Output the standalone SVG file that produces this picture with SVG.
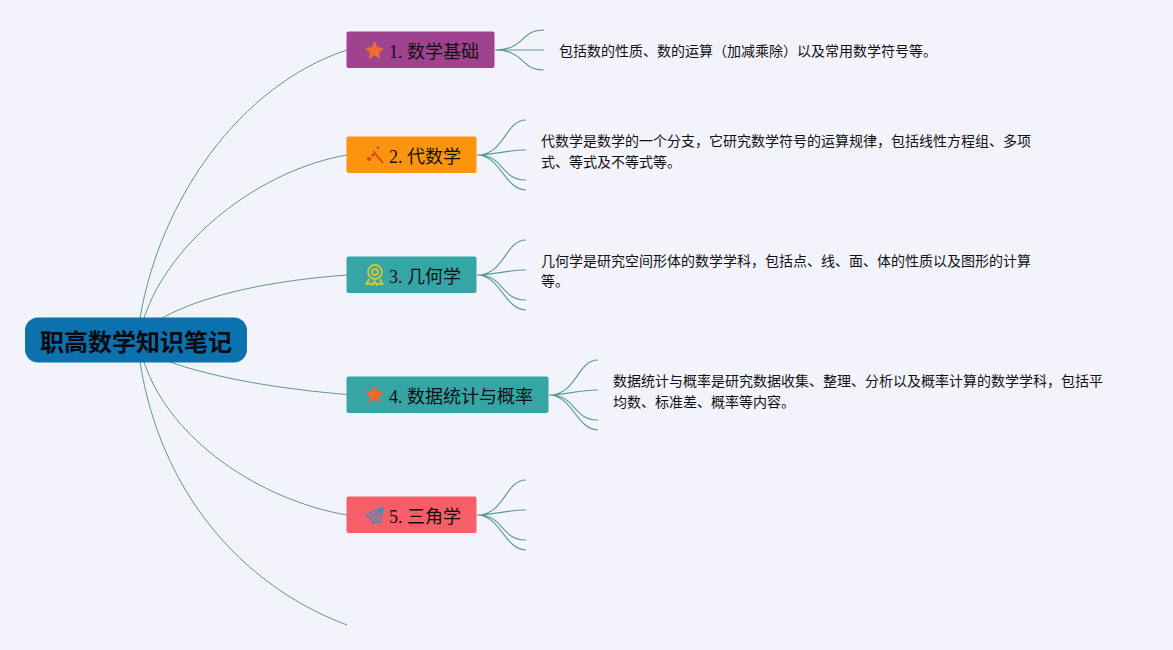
<svg xmlns="http://www.w3.org/2000/svg" width="1173" height="650" viewBox="0 0 1173 650">
<style>
.c{fill:none;stroke:#5b9a94;stroke-width:1.100}
.m{fill:none;stroke:#4f8a85;stroke-width:.9}
.t{font-family:"Liberation Serif","Noto Sans CJK SC",serif;font-size:18px;fill:#111}
.d{font-family:"Liberation Serif","Noto Sans CJK SC",serif;font-size:14px;fill:#111}
.r{font-family:"Liberation Sans","Noto Sans CJK SC",sans-serif;font-size:24px;font-weight:700;fill:#0a0a12}
</style>
<rect width="1173" height="650" fill="#f3f3fb"/>
<g id="connectors">
<path class="m" d="M140 318C160 200 240 85 347 50"/>
<path class="m" d="M144 318C170 240 260 170 347 155"/>
<path class="m" d="M162 318C210 292 280 280 347 275"/>
<path class="m" d="M170 362C215 378 280 389 347 394.500"/>
<path class="m" d="M144 362C170 440 260 500 347 515"/>
<path class="m" d="M140 362C160 490 240 585 347 625"/>
<path class="c" d="M495 50C525 50 520 30 544 30M495 50C515 50 525 50 544 50M495 50C525 50 520 70 544 70"/>
<path class="c" d="M477 155C505 155 505 120 526 120M477 155C495 155 505 150 526 150M477 155C505 155 500 180 526 180M477 155C500 155 505 190 526 190"/>
<path class="c" d="M477 275C505 275 505 240 526 240M477 275C495 275 505 270 526 270M477 275C505 275 500 300 526 300M477 275C500 275 505 310 526 310"/>
<path class="c" d="M549 395C577 395 577 360 598 360M549 395C567 395 577 390 598 390M549 395C577 395 572 420 598 420M549 395C572 395 577 430 598 430"/>
<path class="c" d="M477 515C505 515 505 480 526 480M477 515C495 515 505 510 526 510M477 515C505 515 500 540 526 540M477 515C500 515 505 550 526 550"/>
</g>
<g id="root"><rect x="25" y="317.500" width="222" height="45" rx="13" fill="#0b72ad"/><text class="r" x="136" y="351" text-anchor="middle">职高数学知识笔记</text></g>
<g id="node1"><rect x="346.500" y="31.500" width="148" height="36.500" rx="2" fill="#a0438f"/><path d="M374.500 41l2.800 6.200 6.700.7-5 4.500 1.400 6.600-5.900-3.400-5.900 3.400 1.400-6.600-5-4.500 6.700-.7z" fill="#ef6c35"/><text class="t" x="389" y="58">1. 数学基础</text></g>
<g id="text1"><text class="d" x="559" y="56">包括数的性质、数的运算（加减乘除）以及常用数学符号等。</text></g>
<g id="node2"><rect x="346.500" y="136.500" width="130" height="36.500" rx="2" fill="#fb950f"/><path d="M373 151l10 12" stroke="#d8401c" stroke-width="1.800" fill="none"/><circle cx="369" cy="159" r="2" fill="#d8401c"/><circle cx="373" cy="155" r="1.600" fill="#d8401c"/><circle cx="378" cy="147.500" r="1.300" fill="#d8401c"/><text class="t" x="389" y="163">2. 代数学</text></g>
<g id="text2"><text class="d" x="541" y="146">代数学是数学的一个分支，它研究数学符号的运算规律，包括线性方程组、多项</text><text class="d" x="541" y="167">式、等式及不等式等。</text></g>
<g id="node3"><rect x="346.500" y="256.500" width="130" height="36.500" rx="2" fill="#36a5a6"/><circle cx="375" cy="272" r="7" fill="none" stroke="#d6c735" stroke-width="1.800"/><circle cx="375" cy="272" r="3" fill="none" stroke="#d6c735" stroke-width="1.800"/><path d="M369 279l-2.500 5 4-.5 2 1.500 2-4 2 4 2-1.500 4 .5-2.500-5" fill="none" stroke="#d6c735" stroke-width="1.800"/><text class="t" x="389" y="283">3. 几何学</text></g>
<g id="text3"><text class="d" x="541" y="266">几何学是研究空间形体的数学学科，包括点、线、面、体的性质以及图形的计算</text><text class="d" x="541" y="286">等。</text></g>
<g id="node4"><rect x="346.500" y="376.500" width="202" height="36.500" rx="2" fill="#36a5a6"/><path d="M374.500 385l2.800 6.200 6.700.7-5 4.500 1.400 6.600-5.900-3.400-5.900 3.400 1.400-6.600-5-4.500 6.700-.7z" fill="#ea6a32"/><text class="t" x="389" y="403">4. 数据统计与概率</text></g>
<g id="text4"><text class="d" x="613" y="386">数据统计与概率是研究数据收集、整理、分析以及概率计算的数学学科，包括平</text><text class="d" x="613" y="407">均数、标准差、概率等内容。</text></g>
<g id="node5"><rect x="346.500" y="496.500" width="130" height="36.500" rx="2" fill="#f85e68"/><path d="M383 507l-17 8 5 3 2 6 3-4 4 3zM371 518l12-11-8 13" fill="none" stroke="#5a84b5" stroke-width="1.800" stroke-linejoin="round"/><text class="t" x="389" y="523">5. 三角学</text></g>
</svg>
